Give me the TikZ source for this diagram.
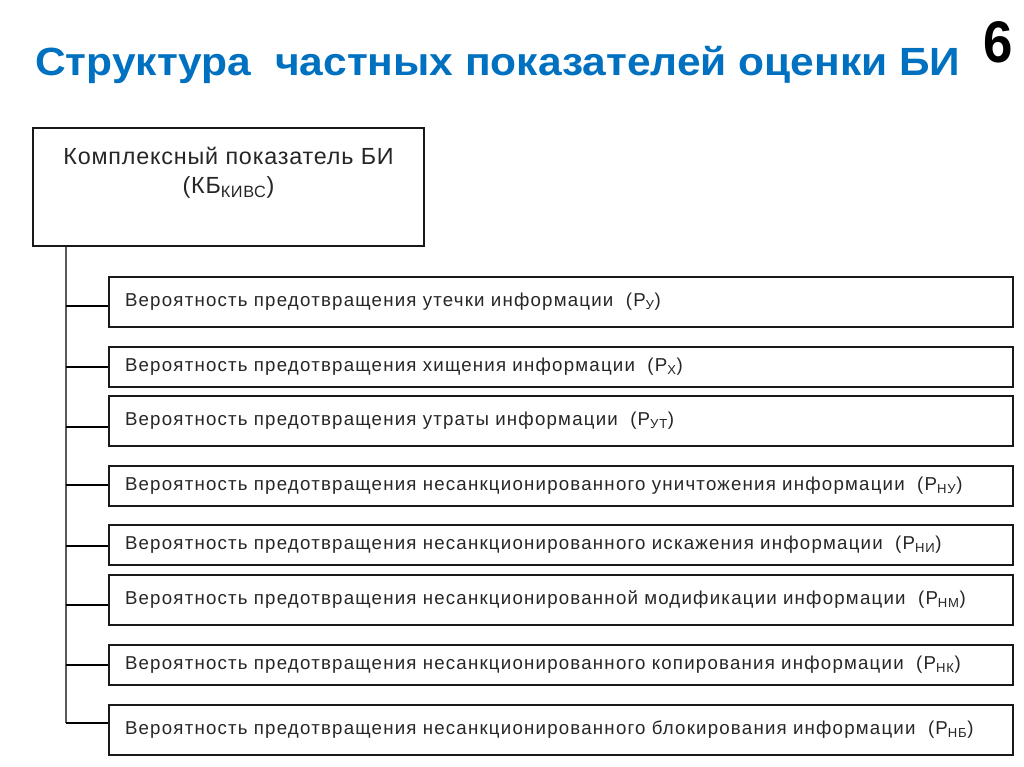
\documentclass[tikz,border=0pt]{standalone}
\usepackage{fontspec}
\setmainfont{Liberation Sans}
\newfontfamily\titlefont[FakeStretch=1.08]{Liberation Sans}
\newfontfamily\numfont[FakeStretch=0.9]{Liberation Sans}
\newfontfamily\headfont[LetterSpace=3.5]{Liberation Sans}
\newfontfamily\boxfont[LetterSpace=6.5]{Liberation Sans}
\usepackage{tikz}
\definecolor{titleblue}{RGB}{0,112,192}

\begin{document}
\begin{tikzpicture}
[x=0.75pt,y=-0.75pt]
\tikzset{topbox/.style={draw=black!90,line width=1.5pt,rectangle,minimum width=293.25pt,minimum height=88.5pt,inner sep=0pt},
  toptext/.style={align=center,font=\headfont\fontsize{17.5}{21.75}\selectfont,text=black!85,inner sep=0pt},
  subbox/.style={draw=black!90,line width=1.5pt,rectangle,anchor=west,text width=654pt,inner xsep=12pt,inner ysep=0pt,align=left,font=\boxfont\fontsize{14}{17}\selectfont,text=black!85},
  tall/.style={minimum height=37.5pt},
  short/.style={minimum height=30pt},
  trunkline/.style={line width=1.8pt,draw=black!65},
  link/.style={line width=1.1pt,draw=black}}
\useasboundingbox [fill=white] (0,0) rectangle (1024,767);

\node [anchor=base west,text=titleblue,font=\titlefont\bfseries\fontsize{29.5}{35}\selectfont,inner sep=0pt] (title) at (35,75) {Структура\hspace{0.6em}частных показателей оценки БИ};
\node [anchor=base,font=\numfont\bfseries\fontsize{44}{50}\selectfont,inner sep=0pt] (num) at (998,63) {6};

\node [topbox] (tb) at (228.5,187) {};
\node [toptext,anchor=north] (tbt) at (228.5,147) {Комплексный показатель БИ\\(КБ\textsubscript{КИВС})};

\node [subbox,tall] (b1) at (108,302) {Вероятность предотвращения утечки информации\ \ (Р\textsubscript{У})};
\node [subbox,short] (b2) at (108,367) {Вероятность предотвращения хищения информации\ \ (Р\textsubscript{Х})};
\node [subbox,tall] (b3) at (108,421) {Вероятность предотвращения утраты информации\ \ (Р\textsubscript{УТ})};
\node [subbox,short] (b4) at (108,486) {Вероятность предотвращения несанкционированного уничтожения информации\ \ (Р\textsubscript{НУ})};
\node [subbox,short] (b5) at (108,545) {Вероятность предотвращения несанкционированного искажения информации\ \ (Р\textsubscript{НИ})};
\node [subbox,tall] (b6) at (108,600) {Вероятность предотвращения несанкционированной модификации информации\ \ (Р\textsubscript{НМ})};
\node [subbox,short] (b7) at (108,665) {Вероятность предотвращения несанкционированного копирования информации\ \ (Р\textsubscript{НК})};
\node [subbox,tall] (b8) at (108,730) {Вероятность предотвращения несанкционированного блокирования информации\ \ (Р\textsubscript{НБ})};

\coordinate (trunk) at (66,723);
\draw [trunkline] (tb.south -| trunk) -- (trunk);

\foreach \i/\y in {1/306,2/367,3/427,4/485,5/546,6/605,7/665,8/723}
	\draw [link] (trunk |- 0,\y) -- (b\i.west |- 0,\y);

\end{tikzpicture}
\end{document}
